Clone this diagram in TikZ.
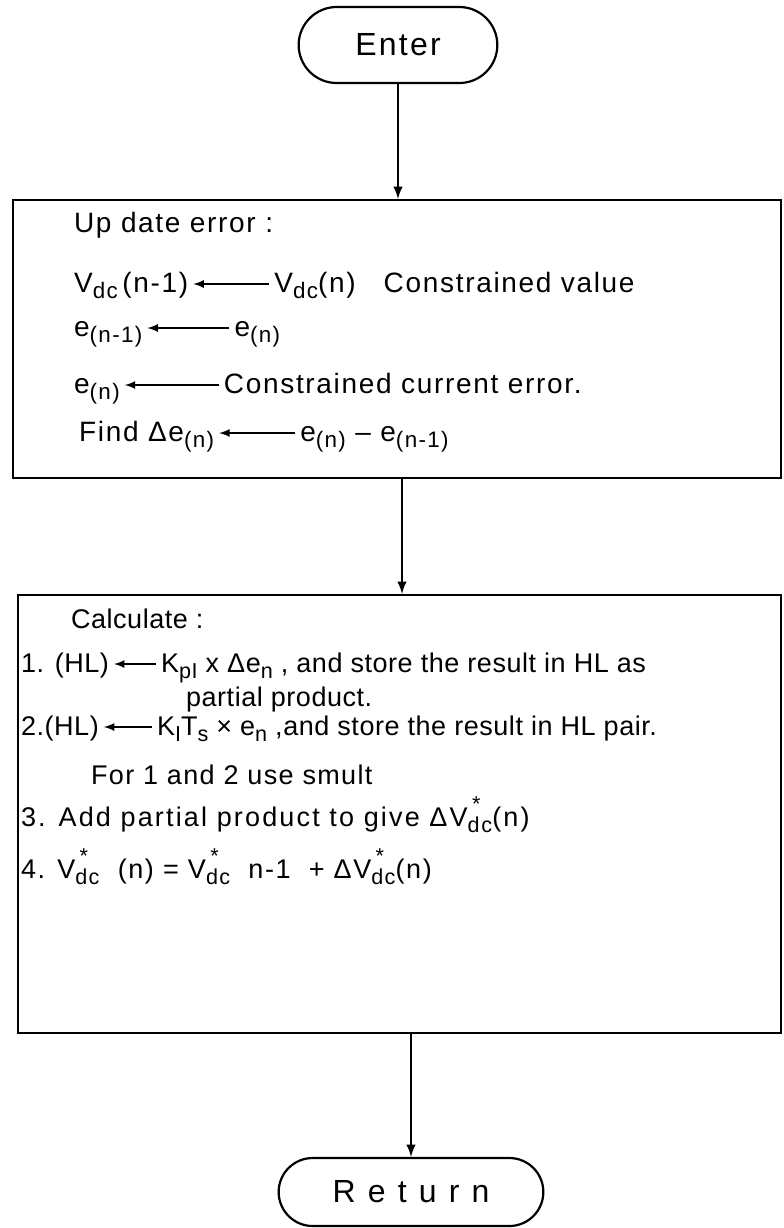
\documentclass[tikz,border=0pt]{standalone}
\usepackage{fontspec}
\usepackage{graphicx}
\setmainfont{Liberation Sans}
\usetikzlibrary{shapes.misc}
\newcommand\subs[1]{\raisebox{-0.45ex}{\scalebox{0.8}{#1}}}
\newcommand\sstar[1]{\raisebox{-0.45ex}{\scalebox{0.8}{\makebox[0pt][l]{\raisebox{1.8ex}{\hspace{0.2em}*}}#1}}}
\begin{document}
\begin{tikzpicture}[x=0.5pt, y=-0.5pt, >=latex, line width=1.1pt,
  term/.style={draw, rounded rectangle, font=\fontsize{16}{19}\selectfont},
  procbox/.style={draw, rectangle, inner sep=0pt},
  txta/.style={anchor=base west, inner sep=0pt,
    font={\fontsize{14}{17}\selectfont\addfontfeature{LetterSpace=6}}},
  txtb/.style={anchor=base west, inner sep=0pt,
    font={\fontsize{13.5}{16}\selectfont\addfontfeature{LetterSpace=2}}},
  conn/.style={->, line width=0.8pt, shorten <=2pt, shorten >=2pt}]
\useasboundingbox (0,0) rectangle (783,1228);
% Anfang und Ende
\node[term, minimum width=106pt, minimum height=38pt] (enter) at (398,45)
  {\addfontfeature{LetterSpace=7}Enter};
\node[term, minimum width=139pt, minimum height=34pt] (ret) at (411,1192)
  {\addfontfeature{LetterSpace=38}Return};
% Kaesten
\node[procbox, minimum width=384pt, minimum height=139pt] (upd) at (397,339) {};
\node[procbox, minimum width=381.5pt, minimum height=219pt] (calc) at (399.5,814) {};
% Pfeile zwischen den Kaesten
\draw[->] (enter.south) -- (enter.south |- upd.north);
\draw[->] ([xshift=2.5pt]upd.south) -- ([xshift=2.5pt]upd.south |- calc.north);
\draw[->] (ret.north |- calc.south) -- (ret.north);
% Up date error
\node[txta] (u0) at (73,232) {Up date error :};
\node[txta] (v1) at (73,292) {V\subs{dc}\,(n-1)};
\node[txta, xshift=42pt] (v2) at (v1.base east) {V\subs{dc}(n)\quad Constrained value};
\node[txta] (e1) at (73,336) {e\subs{(n-1)}};
\node[txta, xshift=45pt] (e2) at (e1.base east) {e\subs{(n)}};
\node[txta] (e3) at (73,393) {e\subs{(n)}};
\node[txta, xshift=51pt] (e4) at (e3.base east) {Constrained current error.};
\node[txta] (f1) at (78,441) {Find Δe\subs{(n)}};
\node[txta, xshift=42pt] (f2) at (f1.base east) {e\subs{(n)} -- e\subs{(n-1)}};
\draw[conn] ([yshift=4pt]v2.base west) -- ([yshift=4pt]v1.base east);
\draw[conn] ([yshift=4pt]e2.base west) -- ([yshift=4pt]e1.base east);
\draw[conn] ([yshift=4pt]e4.base west) -- ([yshift=4pt]e3.base east);
\draw[conn] ([yshift=4pt]f2.base west) -- ([yshift=4pt]f1.base east);
% Calculate
\node[txtb] (c0) at (70,628) {Calculate :};
\node[txtb] (h1) at (20,672) {1. (HL)};
\node[txtb, xshift=25pt] (k1) at (h1.base east) {K\subs{pI} x Δe\subs{n} , and store the result in HL as};
\node[txtb] (c2) at (185,706) {partial product.};
\node[txtb] (h2) at (20,735) {2.(HL)};
\node[txtb, xshift=28pt] (k2) at (h2.base east) {K\subs{I}T\subs{s} × e\subs{n} ,and store the result in HL pair.};
\node[txtb] (c4) at (90,784) {\addfontfeature{LetterSpace=5}For 1 and 2 use smult};
\node[txtb] (c5) at (20,826) {\addfontfeature{LetterSpace=8}3. Add partial product to give ΔV\sstar{dc}(n)};
\node[txtb] (c6) at (20,878) {\addfontfeature{LetterSpace=6}4. V\sstar{dc}\ \ (n) = V\sstar{dc}\ \ n-1 \ + ΔV\sstar{dc}(n)};
\draw[conn] ([yshift=4pt]k1.base west) -- ([yshift=4pt]h1.base east);
\draw[conn] ([yshift=4pt]k2.base west) -- ([yshift=4pt]h2.base east);
\end{tikzpicture}
\end{document}
